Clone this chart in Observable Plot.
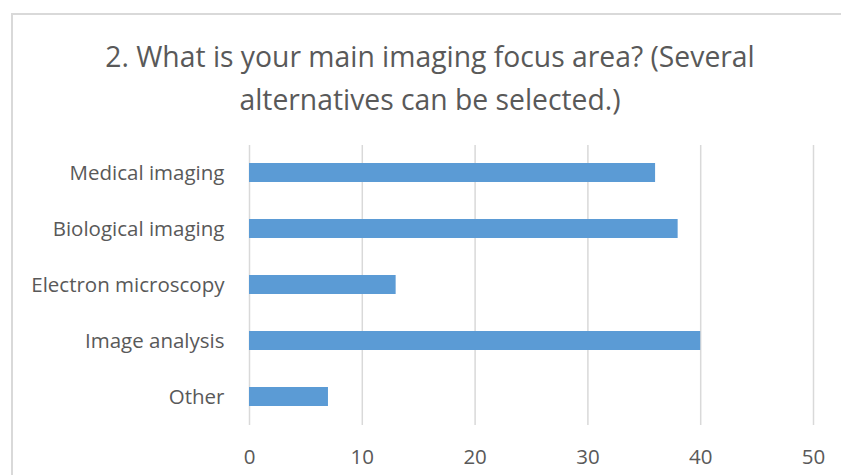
<!DOCTYPE html>
<html>
<head>
<meta charset="utf-8">
<script src="https://cdn.jsdelivr.net/npm/d3@7"></script>
<script src="https://cdn.jsdelivr.net/npm/@observablehq/plot@0.6"></script>
<style>
  html, body { margin: 0; padding: 0; background: #fff; }
  #wrap { position: relative; width: 841px; height: 475px; overflow: hidden; font-family: "Open Sans", sans-serif; }
  #frame { position: absolute; left: 11px; top: 13px; width: 840px; height: 470px; border-left: 2px solid #d9d9d9; border-top: 2px solid #d9d9d9; }
  #title { position: absolute; left: 0; top: 35px; width: 860px; text-align: center; font-size: 28.3px; line-height: 43px; color: #595959; white-space: nowrap; }
  #chart { position: absolute; left: 0; top: 0; }
  #chart svg text { font-size: 20.5px; }
</style>
</head>
<body>
<div id="wrap">
  <div id="frame"></div>
  <div id="title">2. What is your main imaging focus area? (Several<br>alternatives can be selected.)</div>
  <div id="chart"></div>
</div>
<script>
const categories = ["Medical imaging", "Biological imaging", "Electron microscopy", "Image analysis", "Other"];
const values = [36, 38, 13, 40, 7];
const xTicks = [0, 10, 20, 30, 40, 50];

const data = categories.map((c, i) => ({category: c, value: values[i]}));

const chart = Plot.plot({
  width: 841,
  height: 475,
  marginLeft: 249,
  marginRight: 28,
  marginTop: 145,
  marginBottom: 50,
  style: {background: "transparent", fontFamily: "Open Sans, sans-serif", fontSize: "20.5px", color: "#595959"},
  x: {domain: [0, 50], ticks: xTicks},
  y: {domain: categories, paddingInner: 0.66, paddingOuter: 0.33, label: null},
  marks: [
    Plot.gridX(xTicks, {stroke: "#d9d9d9", strokeOpacity: 1, strokeWidth: 1.5}),
    Plot.barX(data, {x: "value", y: "category", fill: "#5b9bd5"}),
    Plot.axisX(xTicks, {tickSize: 0, tickPadding: 24, label: null, fill: "#595959", fontSize: 20.5}),
    Plot.axisY({tickSize: 0, tickPadding: 25, label: null, fill: "#595959", fontSize: 20.5})
  ]
});
document.getElementById("chart").appendChild(chart);
</script>
</body>
</html>
